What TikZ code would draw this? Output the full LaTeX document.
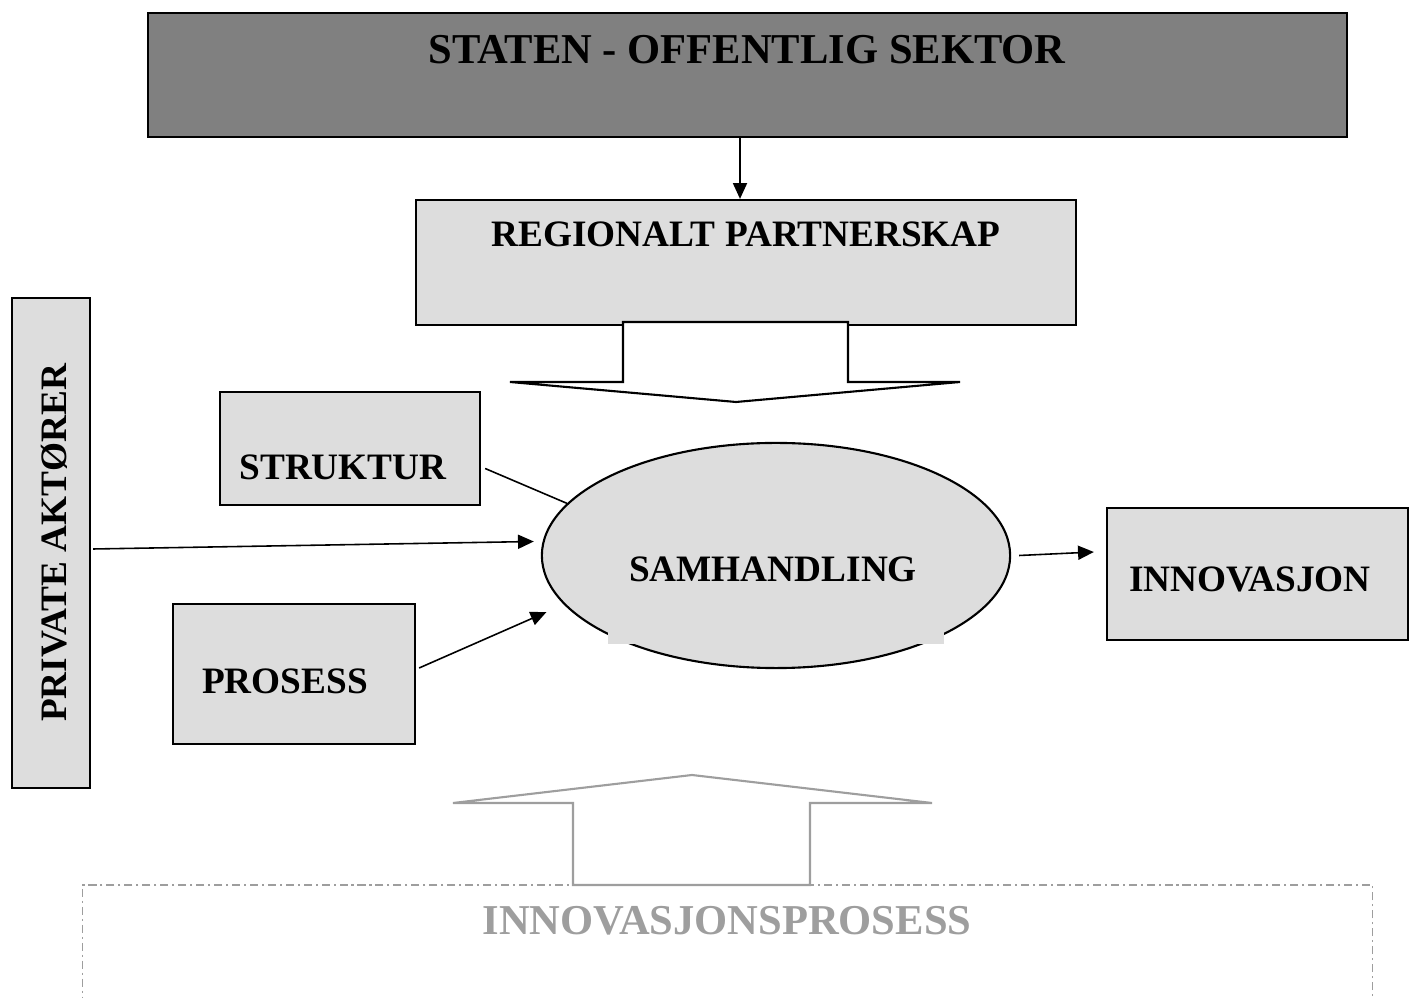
\documentclass[tikz,border=0pt]{standalone}
\usepackage{fontspec}
\setmainfont{Liberation Serif}
\usetikzlibrary{shapes.geometric, arrows.meta, positioning}

\definecolor{lysgraa}{RGB}{221,221,221}
\definecolor{moerkgraa}{RGB}{128,128,128}
\definecolor{prosessgraa}{RGB}{158,158,158}

\tikzset{
  boks/.style={draw, line width=0.6pt, fill=lysgraa, inner sep=0pt},
  tekst/.style={font=\fontsize{10.6}{12}\selectfont\bfseries, anchor=base},
  stortekst/.style={font=\fontsize{12.1}{14}\selectfont\bfseries, anchor=base},
  pil/.style={-{Triangle[length=4.5pt,width=4pt]}, line width=0.45pt},
  linje/.style={line width=0.45pt},
}

\begin{document}
\begin{tikzpicture}[x=0.01cm, y=-0.01cm]
        \useasboundingbox (0,0) rectangle (1409,998);

        % boksene
        \node[boks, fill=moerkgraa, minimum width=11.99cm, minimum height=1.24cm] (staten) at (747.5,75) {};
        \node[boks, minimum width=6.6cm, minimum height=1.25cm] (regional) at (746,262.5) {};
        \node[boks, minimum width=0.78cm, minimum height=4.9cm] (privat) at (51,543) {};
        \node[boks, minimum width=2.6cm, minimum height=1.13cm] (struktur) at (350,448.5) {};
        \node[boks, minimum width=2.42cm, minimum height=1.4cm] (prosess) at (294,674) {};
        \node[boks, minimum width=3.01cm, minimum height=1.32cm] (innovasjon) at (1257.5,574) {};
        \node[boks, ellipse, minimum width=4.68cm, minimum height=2.25cm] (samhandling) at (776,555.5) {};
        \fill[lysgraa] (608,600) rectangle (944,644);
        \node[draw=prosessgraa, line width=0.45pt, dash pattern=on 2.3pt off 1.1pt on 0.6pt off 1.1pt,
              minimum width=12.89cm, minimum height=2.5cm] (prosessfelt) at (727.5,1010) {};

        % blokkpilene
        \draw[line width=0.6pt, fill=white] (623,322) -- (623,382) -- (510,382) -- (736,402)
            -- (960,382) -- (848,382) -- (848,322) -- cycle;
        \draw[prosessgraa, line width=0.6pt, fill=white] (573,885) -- (573,803) -- (453,803) -- (692,775)
            -- (932,803) -- (810,803) -- (810,885) -- cycle;

        % tekstene
        \node[stortekst] (statentekst) at (747,64) {STATEN - OFFENTLIG SEKTOR};
        \node[tekst] (regionaltekst) at (746,247) {REGIONALT PARTNERSKAP};
        \node[tekst, rotate=90] (privattekst) at (67,543) {PRIVATE AKTØRER};
        \node[tekst] (strukturtekst) at (343,480) {STRUKTUR};
        \node[tekst] (prosesstekst) at (285,694) {PROSESS};
        \node[tekst] (innovasjontekst) at (1250,592) {INNOVASJON};
        \node[tekst] (samhandlingtekst) at (773,582) {SAMHANDLING};
        \node[stortekst, text=prosessgraa] (prosessfelttekst) at (727,935) {INNOVASJONSPROSESS};

        \draw
        ([shift={(-7.5,0)}]staten.south) edge[pil] ([shift={(-6,0)}]regional.north)
        ([shift={(4,20)}]struktur.east) edge[linje] (samhandling.166)
        ([shift={(2,6)}]privat.east) edge[pil] ([shift={(-7,-14)}]samhandling.west)
        ([shift={(3,-6)}]prosess.east) edge[pil, shorten >=0.19cm] (samhandling.193)
        ([shift={(8,0)}]samhandling.east) edge[pil] ([shift={(-12,-22)}]innovasjon.west)
        ;
    \end{tikzpicture}
\end{document}
